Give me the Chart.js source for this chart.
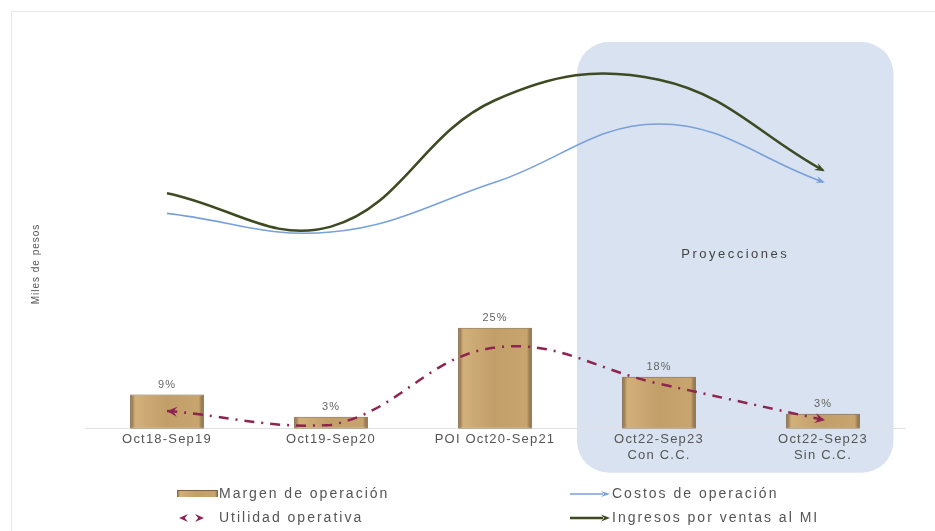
<!DOCTYPE html>
<html>
<head>
<meta charset="utf-8">
<script src="https://cdn.jsdelivr.net/npm/chart.js@4.4.1/dist/chart.umd.min.js"></script>
<style>
  html, body { margin: 0; padding: 0; background: #fff; overflow: hidden; }
  #wrap { position: relative; width: 935px; height: 531px; }
  #frame { position: absolute; left: 11px; top: 11px; width: 940px; height: 540px; border: 1px solid #e9e9e9; }
  canvas { position: absolute; left: 0; top: 0; }
</style>
</head>
<body>
<div id="wrap">
  <div id="frame"></div>
  <canvas id="chart" width="935" height="531"></canvas>
</div>
<script>
const categories = [
  "Oct18-Sep19",
  "Oct19-Sep20",
  "POI Oct20-Sep21",
  ["Oct22-Sep23", "Con C.C."],
  ["Oct22-Sep23", "Sin C.C."]
];
// miles de pesos (escala relativa)
const margen    = [8.8, 3.1, 26.0, 13.4, 3.9];
const utilidad  = [4.6, 1.0, 20.9, 11.6, 2.3];
const ingresos  = [60.6, 52.0, 84.5, 89.8, 66.5];
const costos    = [55.4, 50.6, 63.4, 78.4, 63.5];
const barLabels = ["9%", "3%", "25%", "18%", "3%"];
const legendNames = ["Margen de operación", "Utilidad operativa", "Costos de operación", "Ingresos por ventas al MI"];

const FONT = '"Liberation Sans", Arial, sans-serif';
const TEXT = "#555";
const C_ING = "#3d4a22", C_COST = "#78a0da", C_UTIL = "#8e2450";
const BAR_PCT = 0.45;

function barGradient(c, x0, x1) {
  const g = c.createLinearGradient(x0, 0, x1, 0);
  g.addColorStop(0, "#7e623d");
  g.addColorStop(0.07, "#d2b07a");
  g.addColorStop(0.5, "#c29e69");
  g.addColorStop(0.93, "#c8a46e");
  g.addColorStop(1, "#7a5e3a");
  return g;
}

function arrowHead(c, x, y, ang, len, wid, color) {
  c.save();
  c.translate(x, y);
  c.rotate(ang);
  c.fillStyle = color;
  c.beginPath();
  c.moveTo(0, 0);
  c.lineTo(-len, -wid / 2);
  c.lineTo(-len * 0.65, 0);
  c.lineTo(-len, wid / 2);
  c.closePath();
  c.fill();
  c.restore();
}

const decor = {
  id: "decor",
  beforeDraw(chart) {
    const c = chart.ctx, x = chart.scales.x, a = chart.chartArea;
    // zona de proyecciones
    const left = x.getPixelForValue(2.5), right = x.getPixelForValue(4.43);
    const top = a.top + 2, bottom = a.bottom + 44;
    c.save();
    c.fillStyle = "#d8e2f0";
    c.beginPath();
    c.roundRect(left, top, right - left, bottom - top, 32);
    c.fill();
    c.font = "13px " + FONT;
    c.letterSpacing = "2.5px";
    c.fillStyle = "#444";
    c.textAlign = "center";
    c.textBaseline = "middle";
    c.fillText("Proyecciones", (left + right) / 2, 254);
    c.restore();
    c.letterSpacing = "1.2px";
  },
  afterDatasetsDraw(chart) {
    const c = chart.ctx;
    chart.data.datasets.forEach((ds, i) => {
      const meta = chart.getDatasetMeta(i);
      if (meta.type !== "line") return;
      const pts = meta.data;
      const last = pts[pts.length - 1];
      const angEnd = Math.atan2(last.y - last.cp1y, last.x - last.cp1x);
      arrowHead(c, last.x + 2 * Math.cos(angEnd), last.y + 2 * Math.sin(angEnd), angEnd, ds.arrowLen, ds.arrowWid, ds.borderColor);
      if (ds.arrowStart) {
        const first = pts[0];
        const angStart = Math.atan2(first.y - first.cp2y, first.x - first.cp2x);
        arrowHead(c, first.x, first.y, angStart, ds.arrowLen, ds.arrowWid, ds.borderColor);
      }
    });
    // etiquetas sobre las barras
    const bars = chart.getDatasetMeta(0).data;
    c.save();
    c.font = "11px " + FONT;
    c.letterSpacing = "1px";
    c.fillStyle = "#666";
    c.textAlign = "center";
    c.textBaseline = "bottom";
    bars.forEach((b, i) => c.fillText(barLabels[i], b.x, b.y - 4));
    c.restore();
  },
  afterDraw(chart) {
    const c = chart.ctx;
    c.save();
    // título del eje
    c.font = "10px " + FONT;
    c.letterSpacing = "1px";
    c.fillStyle = TEXT;
    c.textAlign = "center";
    c.textBaseline = "middle";
    c.translate(36, 264);
    c.rotate(-Math.PI / 2);
    c.fillText("Miles de pesos", 0, 0);
    c.restore();

    // leyenda
    c.save();
    c.font = "14px " + FONT;
    c.letterSpacing = "2px";
    c.textBaseline = "middle";
    const rows = [494, 518], colText = [219, 612];
    c.fillStyle = barGradient(c, 177, 218);
    c.fillRect(177, 491, 41, 6);
    c.fillStyle = "#7e623d";
    c.fillRect(177, 490, 41, 1);
    arrowHead(c, 179, rows[1], Math.PI, 9, 8, C_UTIL);
    arrowHead(c, 204, rows[1], 0, 9, 8, C_UTIL);
    c.lineWidth = 1.5;
    c.strokeStyle = C_COST;
    c.beginPath(); c.moveTo(570, rows[0]); c.lineTo(603, rows[0]); c.stroke();
    arrowHead(c, 610, rows[0], 0, 9, 6, C_COST);
    c.lineWidth = 2.5;
    c.strokeStyle = C_ING;
    c.beginPath(); c.moveTo(570, rows[1]); c.lineTo(603, rows[1]); c.stroke();
    arrowHead(c, 610, rows[1], 0, 9, 7, C_ING);
    c.fillStyle = TEXT;
    c.fillText(legendNames[0], colText[0], rows[0]);
    c.fillText(legendNames[1], colText[0], rows[1]);
    c.fillText(legendNames[2], colText[1], rows[0]);
    c.fillText(legendNames[3], colText[1], rows[1]);
    c.restore();
    c.letterSpacing = "0px";
  }
};

new Chart(document.getElementById("chart"), {
  type: "bar",
  data: {
    labels: categories,
    datasets: [
      {
        type: "bar",
        label: legendNames[0],
        data: margen,
        order: 5,
        backgroundColor: (ctx) => {
          const xs = ctx.chart.scales && ctx.chart.scales.x;
          if (!xs || ctx.dataIndex === undefined) return "#c29e69";
          const cx = xs.getPixelForValue(ctx.dataIndex);
          const w = xs.width / categories.length * BAR_PCT;
          if (!isFinite(cx) || !isFinite(w) || w <= 0) return "#c29e69";
          return barGradient(ctx.chart.ctx, cx - w / 2, cx + w / 2);
        },
        borderColor: "#7e623d",
        borderWidth: 1,
        borderSkipped: false,
        categoryPercentage: 1,
        barPercentage: BAR_PCT
      },
      {
        type: "line",
        label: legendNames[1],
        data: utilidad,
        order: 1,
        borderColor: C_UTIL,
        borderWidth: 2.5,
        borderDash: [10, 7, 2, 7],
        tension: 0.4,
        pointRadius: 0,
        clip: false,
        arrowStart: true,
        arrowLen: 10,
        arrowWid: 10
      },
      {
        type: "line",
        label: legendNames[2],
        data: costos,
        order: 2,
        borderColor: C_COST,
        borderWidth: 1.6,
        tension: 0.4,
        pointRadius: 0,
        clip: false,
        arrowLen: 9,
        arrowWid: 7
      },
      {
        type: "line",
        label: legendNames[3],
        data: ingresos,
        order: 3,
        borderColor: C_ING,
        borderWidth: 2.5,
        tension: 0.4,
        pointRadius: 0,
        clip: false,
        arrowLen: 10,
        arrowWid: 8
      }
    ]
  },
  options: {
    responsive: false,
    animation: false,
    layout: { padding: { left: 85, right: 30, top: 40, bottom: 65 } },
    plugins: { legend: { display: false }, tooltip: { enabled: false } },
    scales: {
      x: {
        grid: { display: false, drawTicks: false },
        border: { display: true, color: "#e2e2e2", width: 1 },
        ticks: { color: TEXT, font: { family: FONT, size: 13 }, padding: 3, maxRotation: 0, autoSkip: false }
      },
      y: {
        display: false,
        min: 0,
        max: 100,
        grid: { display: false }
      }
    }
  },
  plugins: [decor]
});
</script>
</body>
</html>
